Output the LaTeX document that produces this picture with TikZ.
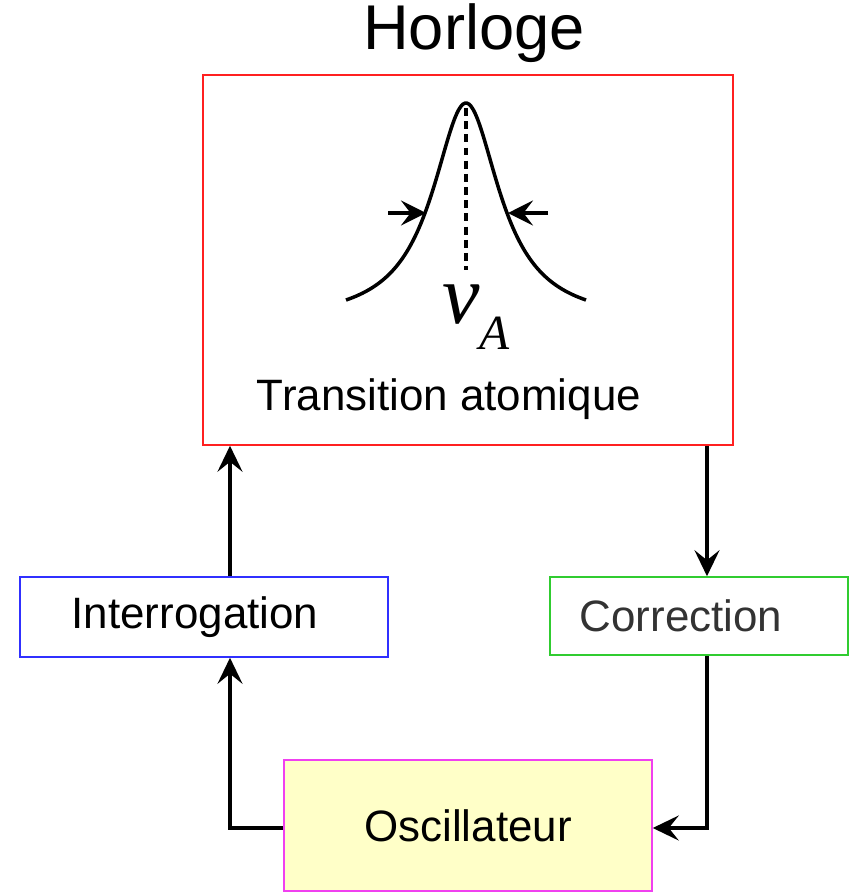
\documentclass[tikz,border=0pt]{standalone}
\usepackage{fontspec}
\setmainfont{Liberation Sans}
\newfontfamily\greekfont{Liberation Serif}
\usetikzlibrary{arrows.meta}
\definecolor{redline}{HTML}{FF2020}
\definecolor{blueline}{HTML}{3030FF}
\definecolor{greenline}{HTML}{30CC30}
\definecolor{magline}{HTML}{F040F0}
\definecolor{oscfill}{HTML}{FFFFC8}

\begin{document}
\begin{tikzpicture}[
  x=0.02cm,y=-0.02cm,
  box/.style={draw,line width=0.9pt,inner sep=0pt,font=\fontsize{25}{30}\selectfont},
  arrow/.style={-{Stealth[length=5.2mm,width=5mm,inset=2mm]},line width=2pt},
  small/.style={-{Stealth[length=5mm,width=5mm,inset=1.9mm]},line width=1.9pt}
]
  \useasboundingbox (0,0) rectangle (855,893);

  \node[font=\fontsize{36}{40}\selectfont] (title) at (474,33) {Horloge};
  \node[box,draw=redline,minimum width=10.6cm,minimum height=7.4cm] (horl) at (468,260) {};
  \node[font=\fontsize{25}{30}\selectfont] (trans) at (449,399) {Transition atomique};

  % raie atomique
  \draw[line width=2pt] plot[domain=-120:120,samples=120,smooth] ({466+\x},{323-220/(1+(\x/41)^2)});
  \draw[line width=1.9pt,dash pattern=on 4.5pt off 3pt] (466,108) -- (466,270);
  \coordinate (la) at (388,213);
  \coordinate (ra) at (548,213);
  \draw[small] (la) -- (426,213);
  \draw[small] (ra) -- (508,213);
  \node[font=\fontsize{48}{50}\selectfont\greekfont\itshape] (nu) at (461,305) {ν};
  \node[font=\fontsize{28}{32}\selectfont\greekfont\itshape] (sub) at (495,333) {A};

  \node[box,draw=blueline,minimum width=7.36cm,minimum height=1.6cm] (inter) at (204,617) {\hspace*{-0.36cm}Interrogation};
  \node[box,draw=greenline,minimum width=5.96cm,minimum height=1.56cm,text=black!80] (corr) at (699,616) {\hspace*{-0.72cm}Correction};
  \node[box,draw=magline,fill=oscfill,minimum width=7.36cm,minimum height=2.62cm] (osc) at (468,825.5) {Oscillateur};

  \draw[arrow] ([xshift=0.52cm]inter.north) -- ([xshift=0.52cm]inter.north |- horl.south);
  \draw[arrow] ([xshift=0.16cm]corr.north |- horl.south) -- ([xshift=0.16cm]corr.north);
  \draw[arrow] ([xshift=0.16cm]corr.south) |- ([yshift=-0.05cm]osc.east);
  \draw[arrow] ([yshift=-0.05cm]osc.west) -| ([xshift=0.52cm]inter.south);
\end{tikzpicture}
\end{document}
